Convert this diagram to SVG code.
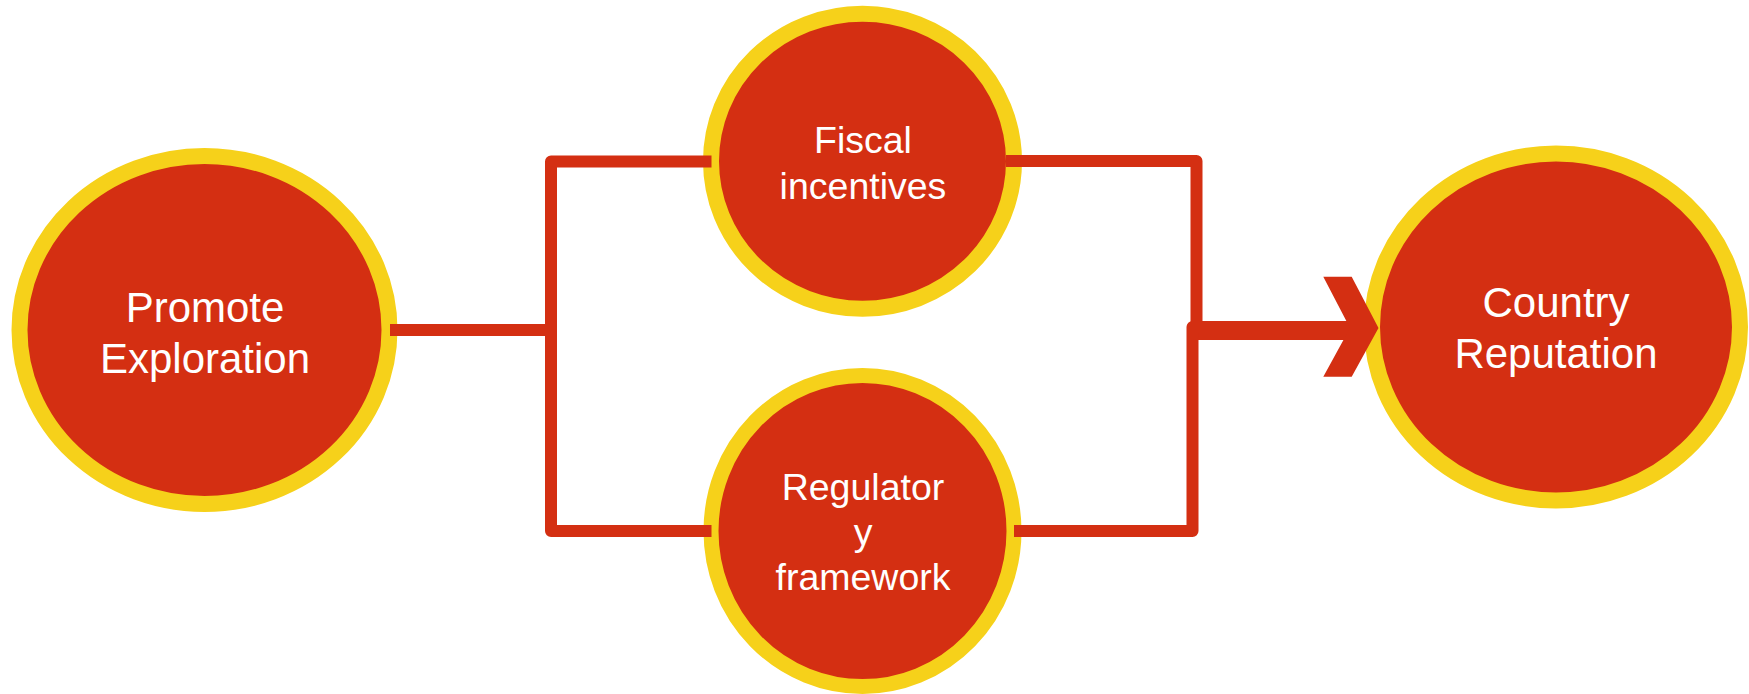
<svg xmlns="http://www.w3.org/2000/svg" width="1749" height="694" viewBox="0 0 1749 694">
  <style>
    .node { fill: #D42F12; stroke: #F6D11A; stroke-width: 16; }
    .lbl { fill: #FFFFFF; font-family: "Liberation Sans", Arial, sans-serif; text-anchor: middle; }
    .big { font-size: 42px; }
    .small { font-size: 37.5px; }
    .wire { fill: none; stroke: #D42F12; stroke-width: 12; stroke-linejoin: round; }
  </style>
  <rect width="1749" height="694" fill="#FFFFFF"/>
  <g id="node-promote">
    <ellipse class="node" cx="204.5" cy="330" rx="185" ry="174"/>
    <text class="lbl big" x="205" y="322">Promote</text>
    <text class="lbl big" x="205" y="373">Exploration</text>
  </g>
  <g id="node-fiscal">
    <ellipse class="node" cx="862.5" cy="161.3" rx="151.5" ry="147.5"/>
    <text class="lbl small" x="863" y="153">Fiscal</text>
    <text class="lbl small" x="863" y="199">incentives</text>
  </g>
  <g id="node-regulatory">
    <ellipse class="node" cx="862.5" cy="531" rx="151.5" ry="155.5" style="stroke-width:15"/>
    <text class="lbl small" x="863" y="500">Regulator</text>
    <text class="lbl small" x="863" y="545">y</text>
    <text class="lbl small" x="863" y="590">framework</text>
  </g>
  <g id="node-country">
    <ellipse class="node" cx="1556" cy="327" rx="184" ry="173.5"/>
    <text class="lbl big" x="1556" y="317">Country</text>
    <text class="lbl big" x="1556" y="368">Reputation</text>
  </g>
  <g id="connectors">
    <path class="wire" d="M390,330 H551"/>
    <path class="wire" d="M711.5,161.5 H551 V531 H711.5"/>
    <path class="wire" d="M1006,161 H1196.5 V334 H1372"/>
    <path class="wire" d="M1014,531 H1192.5 V327 H1372"/>
    <polygon fill="#D42F12" points="1323.3,276.7 1351.7,276.7 1378.5,328 1351.7,376.7 1323.3,376.7 1350,328"/>
  </g>
</svg>
